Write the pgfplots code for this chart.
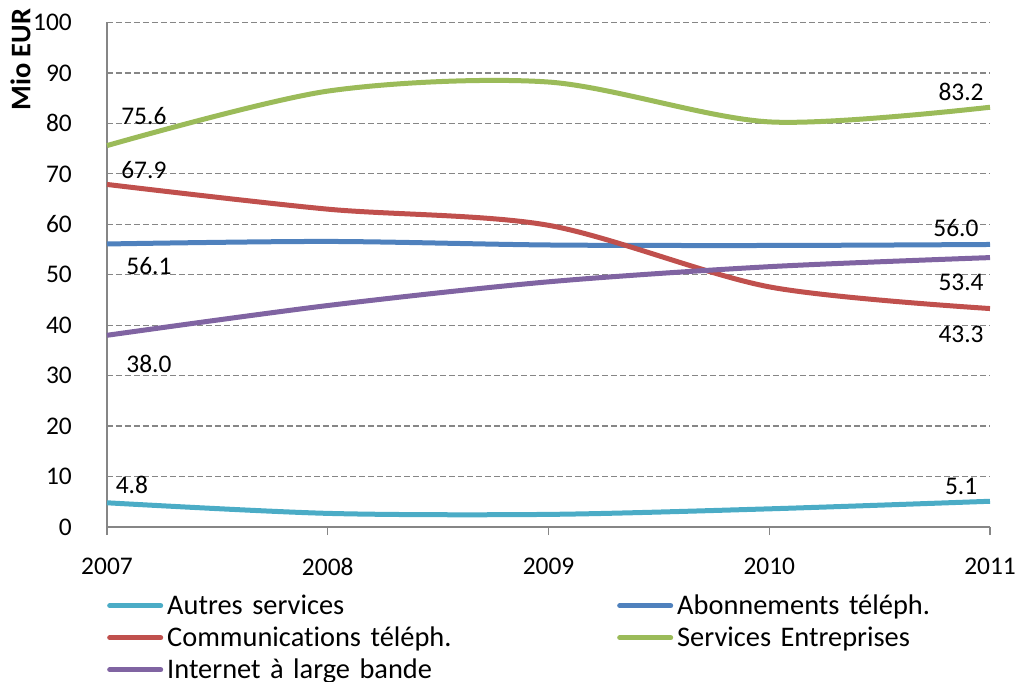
\documentclass[border=0pt]{standalone}
\usepackage{fontspec}
\setmainfont{Carlito}[Ligatures=NoCommon]
\usepackage{pgfplots}
\pgfplotsset{compat=1.18}
\definecolor{cAutres}{HTML}{4BACC6}
\definecolor{cAbon}{HTML}{4F81BD}
\definecolor{cComm}{HTML}{C0504D}
\definecolor{cServ}{HTML}{9BBB59}
\definecolor{cNet}{HTML}{8064A2}
\definecolor{axisgray}{HTML}{868686}
\newcommand{\fs}{\fontsize{25.5}{30}\selectfont}
\begin{document}
\begin{tikzpicture}
\useasboundingbox (-107bp,-155bp) rectangle (911bp,527bp);
\begin{axis}[
  at={(0,0)}, anchor=south west,
  scale only axis, width=883bp, height=504.5bp,
  xmin=2007, xmax=2011, ymin=0, ymax=100,
  xtick={2007,2008,2009,2010,2011},
  xticklabels={2007,2008,2009,2010,2011},
  ytick={0,10,...,100},
  axis x line*=bottom, axis y line*=left,
  axis line style={-, draw=axisgray, line width=1.3bp},
  ymajorgrids,
  grid style={draw=axisgray, line width=1.3bp, dash pattern=on 6bp off 3bp},
  tick align=outside, major tick length=8bp,
  x tick style={draw=axisgray, line width=1.3bp},
  y tick style={draw=none},
  /pgf/number format/assume math mode=true,
  tick label style={font=\fs, inner sep=0pt},
  yticklabel style={xshift=-27bp},
  xticklabel style={yshift=-23bp},
  ylabel={Mio EUR},
  ylabel style={font=\fontsize{28.5}{32}\selectfont\bfseries, at={(axis description cs:-0.098,0.926)}, anchor=center, rotate=0},
  clip=false,
  every axis plot/.append style={line width=5bp, smooth},
  legend columns=2,
  legend cell align=left,
  legend image code/.code={\draw[#1, line cap=round] (2.5bp,0.35em) -- (53.5bp,0.35em);},
  legend style={at={(0,0)}, anchor=north west, yshift=-66bp, draw=none, fill=none,
    inner sep=0pt, column sep=4bp, row sep=0pt,
    font=\fontsize{28.5}{32}\selectfont,
    nodes={inner sep=0pt, text width=446bp, text height=21bp, text depth=11bp}},
]
\addplot[cAutres] coordinates {(2007,4.8) (2008,2.7) (2009,2.5) (2010,3.6) (2011,5.1)};
\addlegendentry{Autres services}
\addplot[cAbon] coordinates {(2007,56.1) (2008,56.6) (2009,55.9) (2010,55.8) (2011,56.0)};
\addlegendentry{Abonnements téléph.}
\addplot[cComm] coordinates {(2007,67.9) (2008,63.0) (2009,59.8) (2010,47.6) (2011,43.3)};
\addlegendentry{Communications téléph.}
\addplot[cServ] coordinates {(2007,75.6) (2008,86.4) (2009,88.2) (2010,80.3) (2011,83.2)};
\addlegendentry{Services Entreprises}
\addplot[cNet] coordinates {(2007,38.0) (2008,43.9) (2009,48.6) (2010,51.6) (2011,53.4)};
\addlegendentry{Internet à large bande}
% data labels
\begin{scope}[every node/.style={font=\fs, inner sep=0pt, anchor=center}]
\node at (axis cs:2007.167,81.5) {75.6};
\node at (axis cs:2007.167,70.8) {67.9};
\node at (axis cs:2007.19,51.7) {56.1};
\node at (axis cs:2007.19,32.3) {38.0};
\node at (axis cs:2007.113,8.4) {4.8};
\node at (axis cs:2010.869,86.2) {83.2};
\node at (axis cs:2010.846,59.3) {56.0};
\node at (axis cs:2010.869,48.4) {53.4};
\node at (axis cs:2010.869,38.1) {43.3};
\node at (axis cs:2010.869,8.1) {5.1};
\end{scope}
\end{axis}
\end{tikzpicture}
\end{document}
